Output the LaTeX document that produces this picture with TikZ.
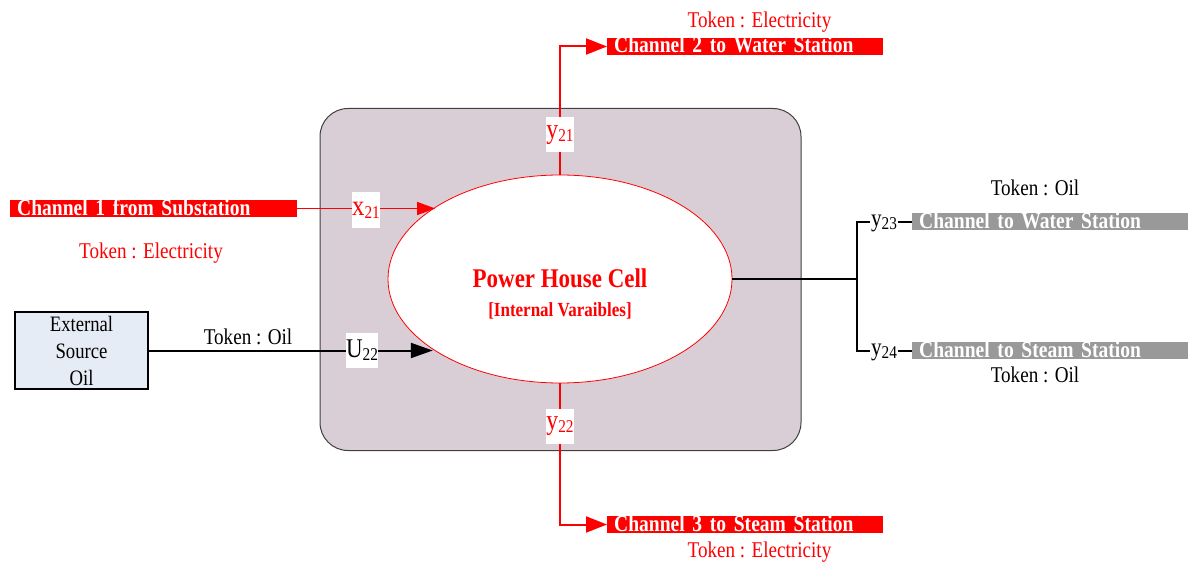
\documentclass[tikz,border=0pt]{standalone}
\usepackage{fontspec}
\setmainfont{Liberation Serif}[FakeStretch=0.85]
\newfontfamily\barfont{Liberation Serif}[FakeStretch=0.85,WordSpace=2.3]
\usetikzlibrary{arrows.meta,shapes.geometric}
\definecolor{cellfill}{RGB}{217,206,214}
\definecolor{extfill}{RGB}{230,236,246}
\definecolor{barred}{RGB}{255,0,0}
\definecolor{bargray}{RGB}{153,153,153}
\definecolor{celledge}{RGB}{64,64,64}
\newcommand\slab[3]{{\fontsize{#3}{#3}\selectfont #1}{\fontsize{18}{18}\selectfont\raisebox{-3pt}{#2}}}
\begin{document}
\begin{tikzpicture}[x=1pt,y=-1pt,
  cellbox/.style={draw=celledge, line width=1pt, fill=cellfill, rounded corners=28pt,
    minimum width=481pt, minimum height=342pt, inner sep=0pt},
  cellell/.style={ellipse, draw=barred, line width=0.8pt, fill=white,
    minimum width=344pt, minimum height=208pt, inner sep=0pt},
  chbar/.style={fill=#1, text=white, font=\barfont\bfseries\fontsize{23}{23}\selectfont,
    text height=15pt, text depth=2pt, inner ysep=0pt, inner xsep=7pt, anchor=west, align=left},
  tok/.style={font=\fontsize{22.5}{22.5}\selectfont, inner sep=0pt, anchor=base},
  lab/.style={fill=white, inner sep=0pt, minimum width=28pt, minimum height=35pt, text=#1},
  slabel/.style={fill=white, inner xsep=1pt, inner ysep=0pt},
  redline/.style={draw=barred, line width=2pt},
  blkline/.style={draw=black, line width=2pt},
]
\useasboundingbox (0,0) rectangle (1188,564);

% cell
\node[cellbox] (box) at (560.5,279.5) {};
\node[cellell] (cell) at (560,279) {};
\node[font=\bfseries\fontsize{27}{27}\selectfont, text=barred, inner sep=0pt] (title) at (560,278) {Power House Cell};
\node[font=\bfseries\fontsize{20}{20}\selectfont, text=barred, inner sep=0pt, anchor=base] (sub) at (560,316) {[Internal Varaibles]};

% channel bars
\node[chbar=barred, text width=273pt] (ch1) at (10,208.5) {Channel 1 from Substation};
\node[chbar=barred, text width=262pt] (ch2) at (607,46.5) {Channel 2 to Water Station};
\node[chbar=barred, text width=262pt] (ch3) at (607,524.5) {Channel 3 to Steam Station};
\node[chbar=bargray, text width=262pt] (ch4) at (912,221.5) {Channel to Water Station};
\node[chbar=bargray, text width=262pt] (ch5) at (912,350.5) {Channel to Steam Station};

% external source
\node[draw=black, line width=1.8pt, fill=extfill, minimum width=133pt, minimum height=77pt,
  inner sep=0pt, align=center, font=\fontsize{22}{27}\selectfont] (ext) at (81.5,350.5)
  {External\\Source\\Oil};

% connectors
\draw[redline, -{Triangle[length=21pt,width=16pt]}] (cell.north) |- (ch2.west);
\draw[redline, -{Triangle[length=21pt,width=16pt]}] (cell.south) |- (ch3.west);
\draw[draw=barred, line width=1pt, -{Triangle[length=18pt,width=13pt]}] (ch1.east) -- (ch1.east -| cell.150.6);
\draw[blkline, -{Triangle[length=22pt,width=15pt]}] (ext.east) -- (ext.east -| cell.209.4);
\coordinate (j) at (857,279);
\draw[blkline] (cell.east) -- (j);
\draw[blkline] (ch4.west) -| (j) |- (ch5.west);

% variable labels
\node[lab=barred] (x21) at (366,210) {\slab{x}{21}{29}};
\node[lab=black] (u22) at (362,350) {\slab{U}{22}{27}};
\node[lab=barred] (y21) at (560,135) {\slab{y}{21}{28}};
\node[lab=barred] (y22) at (560,426) {\slab{y}{22}{28}};
\node[slabel] (y23) at (884,223) {\slab{y}{23}{25}};
\node[slabel] (y24) at (884,352) {\slab{y}{24}{25}};

% tokens
\node[tok, text=barred] (t1) at (759.5,27.5) {Token : Electricity};
\node[tok, text=barred] (t2) at (759.5,557) {Token : Electricity};
\node[tok, text=barred] (t3) at (151,258) {Token : Electricity};
\node[tok] (t4) at (248,344) {Token : Oil};
\node[tok] (t5) at (1035,196) {Token : Oil};
\node[tok] (t6) at (1035,382) {Token : Oil};
\end{tikzpicture}
\end{document}
